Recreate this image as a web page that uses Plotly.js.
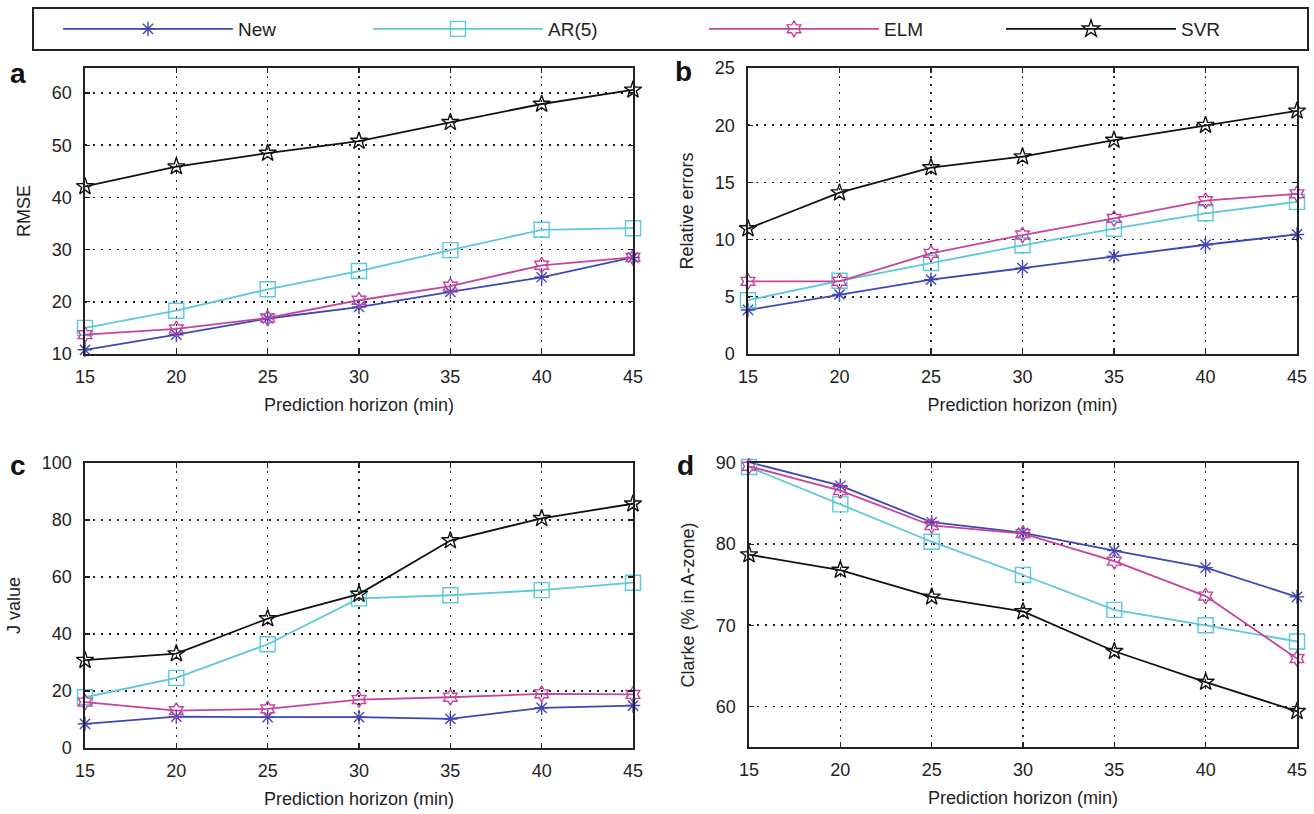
<!DOCTYPE html>
<html>
<head>
<meta charset="utf-8">
<script src="https://cdn.plot.ly/plotly-3.0.1.min.js"></script>
<style>html,body{margin:0;padding:0;background:#fff;}#chart{width:1314px;height:814px;}</style>
</head>
<body>
<div id="chart"></div>
<script>
// ---- data ----
const horizon = [15, 20, 25, 30, 35, 40, 45];
const seriesNames = ["New", "AR(5)", "ELM", "SVR"];

const rmseNew = [10.8, 13.7, 16.8, 19.0, 21.9, 24.7, 28.5];
const rmseAR  = [15.0, 18.3, 22.4, 25.9, 29.9, 33.8, 34.1];
const rmseELM = [13.7, 14.8, 16.9, 20.3, 23.0, 27.0, 28.5];
const rmseSVR = [42.1, 45.9, 48.5, 50.8, 54.4, 57.9, 60.6];

const relNew = [3.85, 5.2, 6.5, 7.5, 8.55, 9.55, 10.45];
const relAR  = [4.7, 6.4, 7.95, 9.5, 10.95, 12.3, 13.3];
const relELM = [6.35, 6.35, 8.8, 10.4, 11.85, 13.4, 14.0];
const relSVR = [10.96, 14.1, 16.3, 17.25, 18.7, 20.0, 21.25];

const jNew = [8.5, 11.0, 10.8, 10.8, 10.2, 14.1, 14.9];
const jAR  = [17.8, 24.6, 36.4, 52.5, 53.6, 55.4, 58.0];
const jELM = [16.1, 13.1, 13.7, 17.0, 17.8, 19.0, 18.8];
const jSVR = [30.8, 33.1, 45.4, 54.0, 72.8, 80.6, 85.7];

const clarkeNew = [90.1, 87.2, 82.7, 81.4, 79.2, 77.1, 73.5];
const clarkeAR  = [89.5, 84.9, 80.3, 76.2, 71.9, 70.0, 68.0];
const clarkeELM = [89.6, 86.6, 82.3, 81.3, 77.9, 73.6, 65.9];
const clarkeSVR = [78.7, 76.8, 73.5, 71.7, 66.8, 63.0, 59.4];

const xTicks = [15, 20, 25, 30, 35, 40, 45];
const yTitles = ["RMSE", "Relative errors", "J value", "Clarke (% in A-zone)"];
const xTitle = "Prediction horizon (min)";
const panelLetters = ["a", "b", "c", "d"];

// ---- styles ----
const W = 1314, H = 814;
const FONT = "Liberation Sans, Arial, sans-serif";
const colors = ["#3f46b6", "#5cc8da", "#c4449e", "#111111"];
const symbols = ["asterisk-open", "square-open", "hexagram-open", "star-open"];
const sizes = [12, 15, 12, 13];

const panelData = [
  [rmseNew, rmseAR, rmseELM, rmseSVR],
  [relNew, relAR, relELM, relSVR],
  [jNew, jAR, jELM, jSVR],
  [clarkeNew, clarkeAR, clarkeELM, clarkeSVR]
];
// pixel boxes [left, right, top, bottom]
const boxes = [
  [85, 633, 68, 354],
  [748, 1297, 68, 354],
  [85, 633, 463, 748],
  [749, 1297, 463, 747]
];
const yRanges = [[10, 64.8], [0, 25], [0, 100], [55, 90]];
const yTickVals = [[10,20,30,40,50,60], [0,5,10,15,20,25], [0,20,40,60,80,100], [60,70,80,90]];
const legendIds = ["legend", "legend2", "legend3", "legend4"];

const traces = [];
panelData.forEach((set, p) => {
  set.forEach((vals, s) => {
    traces.push({
      type: "scatter", mode: "lines+markers",
      x: horizon, y: vals, name: seriesNames[s],
      xaxis: p === 0 ? "x" : "x" + (p + 1),
      yaxis: p === 0 ? "y" : "y" + (p + 1),
      line: {color: colors[s], width: 1.8},
      marker: {symbol: symbols[s], size: sizes[s], color: colors[s], line: {color: colors[s], width: 1.4}},
      cliponaxis: false,
      showlegend: p === 0,
      legend: legendIds[s],
      hoverinfo: "skip"
    });
  });
});

const layout = {
  width: W, height: H,
  margin: {l: 0, r: 0, t: 0, b: 0},
  paper_bgcolor: "#fff", plot_bgcolor: "#fff",
  font: {family: FONT, size: 18, color: "#222"},
  annotations: [],
  shapes: [{
    type: "rect", xref: "paper", yref: "paper",
    x0: 33 / W, x1: 1308 / W, y0: 1 - 50 / H, y1: 1 - 8 / H,
    line: {color: "#222", width: 2}, fillcolor: "rgba(0,0,0,0)"
  }]
};

const legendX = [58, 368, 704, 1001];
legendIds.forEach((id, i) => {
  layout[id] = {
    x: legendX[i] / W, xanchor: "left", y: 1 - 29 / H, yanchor: "middle",
    orientation: "h", itemwidth: 170, bgcolor: "rgba(0,0,0,0)", borderwidth: 0,
    font: {family: FONT, size: 19, color: "#222"}, tracegroupgap: 0
  };
});

boxes.forEach((b, p) => {
  const xk = p === 0 ? "xaxis" : "xaxis" + (p + 1);
  const yk = p === 0 ? "yaxis" : "yaxis" + (p + 1);
  const xa = p === 0 ? "x" : "x" + (p + 1);
  const ya = p === 0 ? "y" : "y" + (p + 1);
  const common = {
    showline: true, linecolor: "#222", linewidth: 1.6, mirror: "ticks",
    ticks: "inside", ticklen: 5, tickwidth: 1.2, tickcolor: "#222",
    showgrid: true, gridcolor: "#222", gridwidth: 1.6, griddash: "2px,6px",
    zeroline: false, tickfont: {family: FONT, size: 18, color: "#222"},
    automargin: false, fixedrange: true
  };
  layout[xk] = Object.assign({}, common, {
    domain: [b[0] / W, b[1] / W], anchor: ya, range: [15, 45],
    tickmode: "array", tickvals: xTicks, ticktext: xTicks.map(String),
    ticklabelstandoff: 6,
    title: {text: xTitle, font: {family: FONT, size: 18, color: "#222"}, standoff: 12}
  });
  layout[yk] = Object.assign({}, common, {
    domain: [1 - b[3] / H, 1 - b[2] / H], anchor: xa, range: yRanges[p],
    tickmode: "array", tickvals: yTickVals[p], ticktext: yTickVals[p].map(String),
    ticklabelstandoff: 8,
    title: {text: yTitles[p], font: {family: FONT, size: 18, color: "#222"}, standoff: 16}
  });
});

const letterPos = [[18, 73], [683, 72], [18, 465], [685, 465]];
letterPos.forEach((pt, i) => {
  layout.annotations.push({
    xref: "paper", yref: "paper", x: pt[0] / W, y: 1 - pt[1] / H,
    xanchor: "center", yanchor: "middle", showarrow: false,
    text: "<b>" + panelLetters[i] + "</b>",
    font: {family: FONT, size: 28, color: "#111"}
  });
});

Plotly.newPlot("chart", traces, layout, {staticPlot: true, displayModeBar: false});
</script>
</body>
</html>
